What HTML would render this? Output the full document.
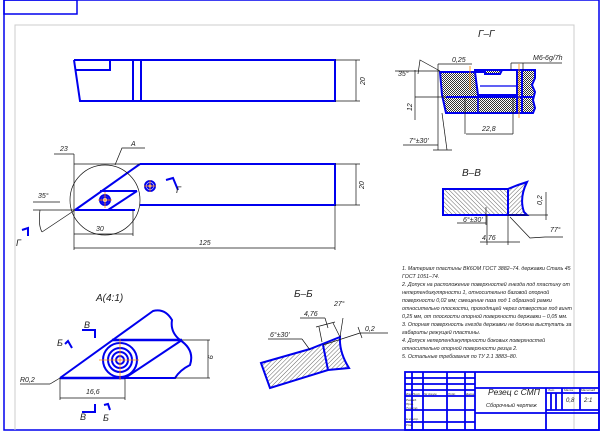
<!DOCTYPE html>
<html><head><meta charset="utf-8"><style>
html,body{margin:0;padding:0;background:#fff;width:600px;height:432px;overflow:hidden}
svg{display:block}
text{font-family:"Liberation Sans","DejaVu Sans",sans-serif;font-style:italic;fill:#222}
</style></head><body>
<svg width="600" height="432" viewBox="0 0 600 432" xmlns="http://www.w3.org/2000/svg">
<defs>
<pattern id="h" width="3" height="3" patternUnits="userSpaceOnUse" patternTransform="rotate(45)"><line x1="0" y1="0" x2="0" y2="3" stroke="#222" stroke-width="0.7"/></pattern>
<pattern id="h2" width="3" height="3" patternUnits="userSpaceOnUse" patternTransform="rotate(-45)"><line x1="0" y1="0" x2="0" y2="3" stroke="#222" stroke-width="0.7"/></pattern>
<pattern id="x" width="2" height="2" patternUnits="userSpaceOnUse"><rect width="1" height="1" fill="#333"/><rect x="1" y="1" width="1" height="1" fill="#333"/></pattern>
</defs>
<rect x="4" y="0" width="595" height="430" fill="none" stroke="#0000ee" stroke-width="1.5"/>
<rect x="4" y="0" width="73" height="14" fill="none" stroke="#0000ee" stroke-width="1.5"/>
<polyline points="15,430 15,25 574,25 574,430" fill="none" stroke="#ccc" stroke-width="1"/>
<g stroke="#0000ee" stroke-width="2" fill="none">
<polyline points="74,60 335,60 335,101 80,101 74,60"/>
<polyline points="75,70 110,70 110,60"/>
<line x1="133" y1="60" x2="133" y2="101"/><line x1="141" y1="60" x2="141" y2="101"/>
<polyline points="140,164 335,164 335,205 140,205"/>
<line x1="75" y1="210" x2="140" y2="164"/>
<line x1="75" y1="210" x2="135" y2="210"/>
<line x1="100" y1="191" x2="137" y2="191"/>
<line x1="137" y1="191" x2="108" y2="210"/>
<circle cx="105" cy="200" r="5"/><circle cx="105" cy="200" r="3"/>
<circle cx="150" cy="186" r="5"/><circle cx="150" cy="186" r="2.5"/>
<path d="M166,180 L173,178 L178,190"/>
<path d="M22,230 L28,228 L28,236"/>
<path d="M440,72 L475,72 L475,70 L535,70 L535,78 L532,85 L535,92 L533,100 L535,108 L533,113 L446,113 L442,95 Z" fill="url(#x)"/>
<path d="M475,72 L485,72 L485,74 L500,74 L502,70 L517,70 L517,95 L478,95 Z" fill="#fff"/>
<rect x="478" y="97" width="39" height="16" fill="url(#x)" stroke-width="1.5"/>
<line x1="446" y1="97" x2="533" y2="97"/>
<path d="M480,86 L517,86" stroke-width="1.2"/>
<line x1="517" y1="70" x2="517" y2="113"/><line x1="522" y1="70" x2="522" y2="113"/>
<rect x="443" y="189" width="65" height="26" fill="url(#h2)"/>
<path d="M508,189 L518,185 L527,182 Q519,198 524,212 L527,215 L508,215 Z" fill="url(#h)"/>
<path d="M60,378 L153,311 Q165,308 172,320 Q170,332 180,340 Q195,350 190,365 Q180,370 175,378 L125,378" />
<line x1="60" y1="378" x2="125" y2="378" stroke-width="2.4"/>
<line x1="112" y1="340" x2="182" y2="340" stroke-width="2.4"/>
<line x1="125" y1="378" x2="182" y2="340"/>
<circle cx="120" cy="360" r="17"/><circle cx="120" cy="360" r="12"/><circle cx="120" cy="360" r="8"/><circle cx="120" cy="360" r="4"/>
<path d="M65,344 L68,341 L72,348"/><path d="M82,330 L95,330 L95,338"/><path d="M82,412 L95,412 L95,404"/><path d="M104,405 L108,404 L110,410"/>
<path d="M261,363 L310,349 L340,337 Q339,352 349,368 L328,370 L270,388 Z" fill="url(#h)"/>
<line x1="328" y1="370" x2="323" y2="345"/>
<g stroke-width="1.8">
<rect x="405" y="372" width="194" height="58"/>
<line x1="412" y1="372" x2="412" y2="430"/><line x1="423" y1="372" x2="423" y2="430"/><line x1="447" y1="372" x2="447" y2="430"/><line x1="465" y1="372" x2="465" y2="430"/><line x1="475" y1="372" x2="475" y2="430"/>
<line x1="405" y1="378" x2="475" y2="378"/><line x1="405" y1="384" x2="475" y2="384"/><line x1="405" y1="390" x2="475" y2="390"/><line x1="405" y1="396" x2="475" y2="396"/><line x1="405" y1="410" x2="475" y2="410"/><line x1="405" y1="422" x2="475" y2="422"/>
<line x1="475" y1="388" x2="599" y2="388"/><line x1="475" y1="413" x2="599" y2="413"/>
<line x1="546" y1="388" x2="546" y2="430"/><line x1="562" y1="388" x2="562" y2="410"/><line x1="580" y1="388" x2="580" y2="410"/>
<line x1="546" y1="393" x2="599" y2="393"/><line x1="546" y1="410" x2="599" y2="410"/>
<line x1="551" y1="393" x2="551" y2="410"/><line x1="556" y1="393" x2="556" y2="410"/>
</g>
</g>
<g stroke="#111" stroke-width="0.7" fill="none">
<line x1="335" y1="60" x2="360" y2="60"/><line x1="335" y1="101" x2="360" y2="101"/><line x1="356" y1="60" x2="356" y2="101"/>
<line x1="335" y1="164" x2="360" y2="164"/><line x1="335" y1="205" x2="360" y2="205"/><line x1="356" y1="164" x2="356" y2="205"/>
<circle cx="105" cy="200" r="35"/>
<line x1="74" y1="154" x2="74" y2="250"/><line x1="74" y1="164" x2="140" y2="164"/>
<line x1="54" y1="154" x2="74" y2="154"/>
<line x1="74" y1="234" x2="133" y2="234"/><line x1="133" y1="210" x2="133" y2="236"/>
<line x1="74" y1="248" x2="335" y2="248"/><line x1="335" y1="205" x2="335" y2="250"/>
<line x1="33" y1="210" x2="75" y2="210"/><line x1="33" y1="202" x2="60" y2="202"/>
<path d="M40,210 Q38,225 42,232"/><line x1="42" y1="232" x2="75" y2="210"/>
<path d="M115,165 L122,148 L145,148"/>
<line x1="395" y1="71" x2="440" y2="71"/><line x1="415" y1="97" x2="446" y2="97"/>
<line x1="415" y1="70" x2="415" y2="120"/>
<path d="M418,74 L420,60 L440,71"/>
<line x1="438" y1="64" x2="472" y2="64"/><line x1="438" y1="64" x2="438" y2="150"/>
<line x1="465" y1="97" x2="465" y2="134"/><line x1="513" y1="97" x2="513" y2="134"/><line x1="466" y1="134" x2="513" y2="134"/>
<line x1="511" y1="63" x2="562" y2="63"/><line x1="511" y1="63" x2="511" y2="70"/><line x1="523" y1="63" x2="523" y2="70"/>
<line x1="403" y1="145" x2="438" y2="145"/><line x1="442" y1="113" x2="447" y2="150"/><line x1="433" y1="150" x2="452" y2="150"/>
<line x1="508" y1="215" x2="548" y2="215"/><line x1="546" y1="192" x2="546" y2="220"/>
<line x1="486" y1="207" x2="486" y2="225"/><line x1="457" y1="223" x2="486" y2="223"/>
<line x1="480" y1="242" x2="520" y2="242"/><line x1="508" y1="215" x2="508" y2="245"/><line x1="487" y1="215" x2="487" y2="245"/>
<path d="M510,217 L530,238 L545,237 L563,237"/>
<line x1="60" y1="378" x2="60" y2="400"/><line x1="125" y1="378" x2="125" y2="400"/><line x1="60" y1="398" x2="125" y2="398"/>
<line x1="182" y1="340" x2="210" y2="340"/><line x1="175" y1="378" x2="210" y2="378"/><line x1="208" y1="340" x2="208" y2="378"/>
<line x1="20" y1="384" x2="50" y2="384"/><line x1="50" y1="384" x2="60" y2="378"/>
<line x1="300" y1="318" x2="325" y2="318"/><line x1="325" y1="318" x2="328" y2="328"/><line x1="316" y1="327" x2="335" y2="322"/>
<line x1="319" y1="327" x2="322" y2="342"/><line x1="333" y1="323" x2="340" y2="337"/><line x1="343" y1="318" x2="340" y2="337"/>
<line x1="268" y1="339" x2="302" y2="339"/><line x1="302" y1="339" x2="310" y2="350"/>
<line x1="323" y1="345" x2="360" y2="333"/><line x1="360" y1="333" x2="388" y2="333"/><line x1="358" y1="327" x2="362" y2="338"/>
</g>
<g stroke="#ff8800" stroke-width="0.8">
<line x1="98" y1="200" x2="112" y2="200"/><line x1="105" y1="192" x2="105" y2="208"/>
<line x1="144" y1="186" x2="156" y2="186"/><line x1="150" y1="180" x2="150" y2="192"/>
<line x1="99" y1="360" x2="139" y2="360"/><line x1="120" y1="339" x2="120" y2="380"/>
<line x1="470" y1="66" x2="470" y2="90"/><line x1="519" y1="64" x2="519" y2="118"/>
</g>
<g font-size="7">
<text x="353" y="87" transform="rotate(-90 358 80)">20</text>
<text x="353" y="190" transform="rotate(-90 358 184)">20</text>
<text x="60" y="151">23</text><text x="131" y="146">A</text>
<text x="38" y="198">35°</text><text x="96" y="231">30</text><text x="199" y="245">125</text>
<text x="16" y="246" font-size="9">Г</text><text x="176" y="193" font-size="9">Г</text>
<text x="478" y="37" font-size="10">Г–Г</text>
<text x="452" y="62">0,25</text><text x="533" y="60">M6-6g/7h</text>
<text x="398" y="76">35°</text><text x="405" y="112" transform="rotate(-90 408 108)">12</text>
<text x="482" y="131">22,8</text><text x="409" y="143">7°±30'</text>
<text x="462" y="176" font-size="10">В–В</text>
<text x="531" y="206" transform="rotate(-90 536 200)">0,2</text>
<text x="463" y="222">6°±30'</text><text x="482" y="240">4,76</text><text x="550" y="232">77°</text>
<text x="96" y="301" font-size="10">A(4:1)</text>
<text x="84" y="328" font-size="9">В</text><text x="57" y="346" font-size="9">Б</text>
<text x="80" y="420" font-size="9">В</text><text x="103" y="421" font-size="9">Б</text>
<text x="20" y="382">R0,2</text><text x="86" y="394">16,6</text>
<text x="212" y="359" transform="rotate(90 212 355)">9</text>
<text x="294" y="297" font-size="10">Б–Б</text>
<text x="304" y="316">4,76</text><text x="334" y="306">27°</text><text x="270" y="337">6°±30'</text><text x="365" y="331">0,2</text>
</g>
<g font-size="5.3" style="fill:#333">
<text x="402" y="270">1. Материал пластины ВК6ОМ ГОСТ 3882–74. державки Сталь 45</text>
<text x="402" y="278">ГОСТ 1051–74.</text>
<text x="402" y="286">2. Допуск на расположение поверхностей гнезда под пластину от</text>
<text x="402" y="294">неперпендикулярности 1, относительно базовой опорной</text>
<text x="402" y="302">поверхности 0,02 мм; смещение паза под 1 образной рамки</text>
<text x="402" y="310">относительно плоскости, проходящей через отверстие под винт</text>
<text x="402" y="318">0,25 мм, от плоскости опорной поверхности державки – 0,05 мм.</text>
<text x="402" y="326">3. Опорная поверхность гнезда державки не должна выступать за</text>
<text x="402" y="334">габариты режущей пластины.</text>
<text x="402" y="342">4. Допуск неперпендикулярности боковых поверхностей</text>
<text x="402" y="350">относительно опорной поверхности резца 2.</text>
<text x="402" y="358">5. Остальные требования по ТУ 2.1 3883–80.</text>
</g>
<text x="488" y="395" font-size="8.5">Резец с СМП</text>
<text x="486" y="407" font-size="5.5">Сборочный чертеж</text>
<text x="566" y="402" font-size="6">0,8</text><text x="584" y="402" font-size="6">2:1</text>
<g font-size="3" fill="#000"><text x="406" y="395">Изм Лист</text><text x="424" y="395">№ докум.</text><text x="448" y="395">Подп.</text><text x="466" y="395">Дата</text>
<text x="406" y="401">Разраб.</text><text x="406" y="405">Пров.</text><text x="406" y="409">Т.контр.</text><text x="406" y="420">Н.контр.</text><text x="406" y="426">Утв.</text>
<text x="548" y="391">Лит.</text><text x="564" y="391">Масса</text><text x="581" y="391">Масштаб</text></g>
</svg>
</body></html>
